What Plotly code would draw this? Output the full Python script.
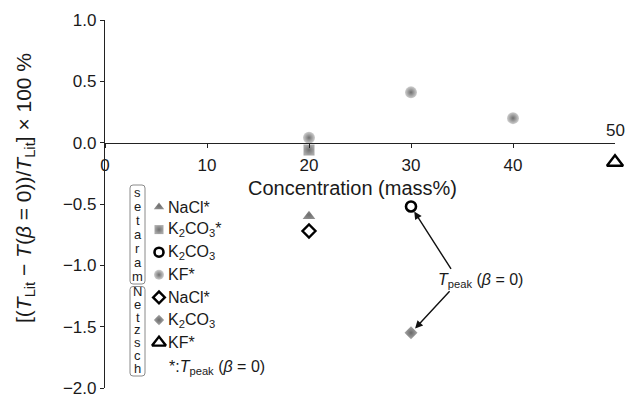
import plotly.graph_objects as go

# ---------------- data ----------------
nacl_set_x = [20]
nacl_set_y = [-0.60]
k2co3_star_set_x = [20]
k2co3_star_set_y = [-0.06]
k2co3_set_x = [30]
k2co3_set_y = [-0.52]
kf_set_x = [20, 30, 40]
kf_set_y = [0.04, 0.41, 0.20]
nacl_netz_x = [20]
nacl_netz_y = [-0.72]
k2co3_netz_x = [30]
k2co3_netz_y = [-1.55]
kf_netz_x = [50]
kf_netz_y = [-0.16]

x_tickvals = [0, 10, 20, 30, 40]
y_tickvals = [1.0, 0.5, 0.0, -0.5, -1.0, -1.5, -2.0]

legend_labels = ["NaCl*", "K<sub>2</sub>CO<sub>3</sub>*", "K<sub>2</sub>CO<sub>3</sub>", "KF*",
                 "NaCl*", "K<sub>2</sub>CO<sub>3</sub>", "KF*"]

FONT = "Liberation Sans, Arial, Helvetica, sans-serif"

# ---------------- styles ----------------
styles = [
    dict(symbol="triangle-up", color="#8c8c8c", gradient=dict(type="radial", color="#6e6e6e"), line=dict(width=0)),
    dict(symbol="square", color="#a8a8a8", gradient=dict(type="radial", color="#707070"), line=dict(width=0)),
    dict(symbol="circle", color="white", line=dict(color="black", width=2.6)),
    dict(symbol="circle", color="#cfcfcf", gradient=dict(type="radial", color="#6f6f6f"), line=dict(width=0)),
    dict(symbol="diamond", color="white", line=dict(color="black", width=2.4)),
    dict(symbol="diamond", color="#a8a8a8", gradient=dict(type="radial", color="#6a6a6a"), line=dict(width=0)),
    dict(symbol="triangle-up", color="white", line=dict(color="black", width=2.4)),
]
plot_sizes = [11, 11, 10, 12, 10, 10, 14]
legend_sizes = [9, 9, 9, 10, 9, 8, 12]

series = [
    (nacl_set_x, nacl_set_y),
    (k2co3_star_set_x, k2co3_star_set_y),
    (k2co3_set_x, k2co3_set_y),
    (kf_set_x, kf_set_y),
    (nacl_netz_x, nacl_netz_y),
    (k2co3_netz_x, k2co3_netz_y),
    (kf_netz_x, kf_netz_y),
]

fig = go.Figure()

for (xs, ys), st, sz in zip(series, styles, plot_sizes):
    m = dict(st)
    m["size"] = sz
    fig.add_trace(go.Scatter(x=xs, y=ys, mode="markers", marker=m,
                             showlegend=False, cliponaxis=False, hoverinfo="skip"))

# ---------------- custom legend (pixel-like overlay axes) ----------------
row0, row_step = 207, 22.6
rows = [row0 + row_step * i for i in range(7)]
for i, (st, sz) in enumerate(zip(styles, legend_sizes)):
    m = dict(st)
    m["size"] = sz
    fig.add_trace(go.Scatter(x=[159], y=[rows[i]], mode="markers", marker=m,
                             xaxis="x2", yaxis="y2", showlegend=False,
                             cliponaxis=False, hoverinfo="skip"))

annotations = []
for i, lab in enumerate(legend_labels):
    annotations.append(dict(x=166, y=rows[i], xref="x2", yref="y2", text=lab,
                            showarrow=False, xanchor="left", yanchor="middle",
                            font=dict(size=16, color="#1a1a1a", family=FONT)))

def letters(word, y_start, step):
    for k, ch in enumerate(word):
        annotations.append(dict(x=137.5, y=y_start + step * k, xref="x2", yref="y2",
                                text=ch, showarrow=False, xanchor="center", yanchor="middle",
                                font=dict(size=13, color="#1a1a1a", family=FONT)))

letters("setaram", 192, 14.0)
letters("Netzsch", 291.5, 12.8)

def rounded(x0, y0, x1, y1, r=3):
    return (f"M {x0+r},{y0} L {x1-r},{y0} Q {x1},{y0} {x1},{y0+r} "
            f"L {x1},{y1-r} Q {x1},{y1} {x1-r},{y1} L {x0+r},{y1} "
            f"Q {x0},{y1} {x0},{y1-r} L {x0},{y0+r} Q {x0},{y0} {x0+r},{y0} Z")

shapes = [
    dict(type="path", path=rounded(130, 185, 145, 284), xref="x2", yref="y2",
         line=dict(color="#8a8a8a", width=1)),
    dict(type="path", path=rounded(130, 286.5, 145, 376), xref="x2", yref="y2",
         line=dict(color="#8a8a8a", width=1)),
]

# footnote
annotations.append(dict(x=167, y=367, xref="x2", yref="y2",
                        text="*:<i>T</i><sub>peak</sub> (<i>β</i> = 0)",
                        showarrow=False, xanchor="left", yanchor="middle",
                        font=dict(size=16, color="#1a1a1a", family=FONT)))

# T_peak label and arrows
annotations.append(dict(x=436, y=280, xref="x2", yref="y2",
                        text="<i>T</i><sub>peak</sub> (<i>β</i> = 0)",
                        showarrow=False, xanchor="left", yanchor="middle",
                        font=dict(size=16, color="#1a1a1a", family=FONT)))
annotations.append(dict(x=k2co3_set_x[0], y=k2co3_set_y[0], xref="x", yref="y",
                        ax=41, ay=64, text="", showarrow=True, arrowhead=2,
                        arrowsize=1.1, arrowwidth=1.4, arrowcolor="#111", standoff=6))
annotations.append(dict(x=k2co3_netz_x[0], y=k2co3_netz_y[0], xref="x", yref="y",
                        ax=40, ay=-43, text="", showarrow=True, arrowhead=2,
                        arrowsize=1.1, arrowwidth=1.4, arrowcolor="#111", standoff=6))

# "50" label above the axis end
annotations.append(dict(x=50, y=0, xref="x", yref="y", text="50", showarrow=False,
                        xanchor="center", yanchor="bottom", yshift=1,
                        font=dict(size=17, color="#1a1a1a", family=FONT)))

# axis titles
annotations.append(dict(x=352, y=188, xref="x2", yref="y2", text="Concentration (mass%)",
                        showarrow=False, xanchor="center", yanchor="middle",
                        font=dict(size=20, color="#1a1a1a", family=FONT)))
annotations.append(dict(x=(25 - 105) / 510, y=(388 - 188) / 368, xref="paper", yref="paper",
                        text="[(<i>T</i><sub>Lit</sub> − <i>T</i>(<i>β</i> = 0))/<i>T</i><sub>Lit</sub>] × 100 %",
                        showarrow=False, textangle=-90, xanchor="center", yanchor="middle",
                        font=dict(size=21, color="#1a1a1a", family=FONT)))

fig.update_layout(
    width=625, height=395,
    margin=dict(l=105, r=10, t=20, b=7, autoexpand=False),
    paper_bgcolor="white", plot_bgcolor="white",
    font=dict(family=FONT, size=17, color="#1a1a1a"),
    xaxis=dict(range=[0, 50], anchor="free", position=2/3, showline=True,
               linecolor="#222", linewidth=1.2, ticks="outside", ticklen=4,
               tickcolor="#222", tickvals=x_tickvals, ticktext=[str(v) for v in x_tickvals],
               showgrid=False, zeroline=False, tickfont=dict(size=17),
               ticklabelstandoff=3),
    yaxis=dict(range=[-2, 1], showline=True, linecolor="#222", linewidth=1.2,
               ticks="outside", ticklen=4, tickcolor="#222", tickvals=y_tickvals,
               tickformat=".1f", showgrid=False, zeroline=False, tickfont=dict(size=17),
               ticklabeloverflow="allow"),
    xaxis2=dict(range=[105, 615], overlaying="x", anchor="y2", visible=False),
    yaxis2=dict(range=[388, 20], overlaying="y", anchor="x2", visible=False),
    shapes=shapes,
    annotations=annotations,
    showlegend=False,
)

fig.write_html("out.html", config={"displayModeBar": False},
               post_script="document.body.style.margin='0';document.body.style.overflow='hidden';")
